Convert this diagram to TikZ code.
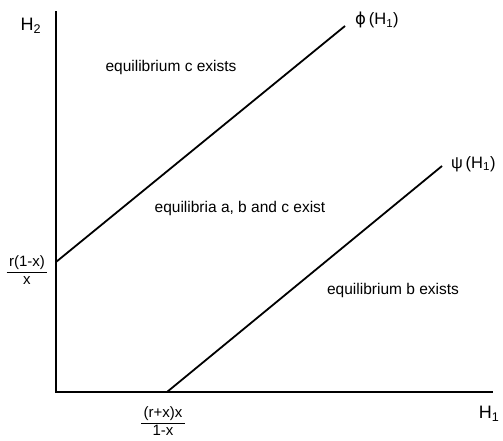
\documentclass[tikz,border=0pt]{standalone}
\usepackage{fontspec}
\setmainfont{Liberation Sans}
\newfontfamily\greekfont{DejaVu Sans}
\usepackage{tikz}
\usetikzlibrary{positioning, calc}

\begin{document}
\begin{tikzpicture}[
  x=1pt, y=-1pt,
  axis_line/.style={line width=1.3pt, line cap=rect},
  bound_line/.style={line width=1.8pt},
  region_text/.style={font=\fontsize{15.5}{18}\selectfont, inner sep=0pt},
  axis_text/.style={font=\fontsize{18}{20}\selectfont, inner sep=0pt},
  curve_text/.style={font=\fontsize{16.5}{19}\selectfont, inner sep=0pt, anchor=west},
  frac_text/.style={font=\fontsize{15}{17}\selectfont, inner sep=0pt, align=center}
]
  \useasboundingbox (0,0) rectangle (503,441);

  % Axes
  \coordinate (origin) at (56,392);
  \coordinate (ytop) at (56,12);
  \coordinate (xend) at (492,392);
  \draw[axis_line] (ytop) -- (origin) -- (xend);
  \node (h2) [axis_text] at (31,26) {H\textsubscript{2}};
  \node (h1) [axis_text] at (489,414) {H\textsubscript{1}};

  % Boundary lines
  \coordinate (phistart) at (56,262);
  \coordinate (phiend) at (345,26);
  \coordinate (psistart) at (167,392);
  \coordinate (psiend) at (442,166);
  \draw[bound_line] (phistart) -- (phiend);
  \draw[bound_line] (psistart) -- (psiend);
  \node (philabel) [curve_text] at (355,20) {{\greekfont ϕ}\,(H\textsubscript{1})};
  \node (psilabel) [curve_text] at (451,164) {ψ\,(H\textsubscript{1})};

  % Intercepts
  \node (yint) [frac_text] at (27,272) {\begin{tabular}{@{\,}c@{\,}}r(1-x)\\[0pt]\hline\rule{0pt}{12pt}x\end{tabular}};
  \node (xint) [frac_text] at (163,423) {\begin{tabular}{@{\,}c@{\,}}(r+x)x\\[0pt]\hline\rule{0pt}{12pt}1-x\end{tabular}};

  % Regions
  \node (regc) [region_text] at (171,67) {equilibrium c exists};
  \node (regabc) [region_text] at (240,208) {equilibria a, b and c exist};
  \node (regb) [region_text] at (393,290) {equilibrium b exists};

\end{tikzpicture}
\end{document}
